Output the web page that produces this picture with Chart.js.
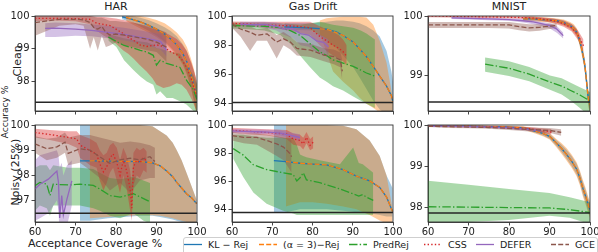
<!DOCTYPE html>
<html><head><meta charset="utf-8">
<script src="https://cdn.jsdelivr.net/npm/chart.js@4/dist/chart.umd.min.js"></script>
<style>
body{margin:0;width:598px;height:252px;background:#fff;position:relative;overflow:hidden;font-family:"DejaVu Sans",sans-serif;color:#222}
.t{position:absolute;white-space:nowrap;transform:translate(-50%,-50%);font-size:11px;line-height:1}
.r{transform:translate(-50%,-50%) rotate(-90deg)}
#legframe{position:absolute;left:183px;top:237px;width:413px;height:22px;border:1px solid #cfcfcf;border-radius:3px;background:#fff}
.li{position:absolute;top:238px;height:13px;font-size:9.5px;line-height:13px;white-space:nowrap}
.li svg{position:absolute;top:0;left:-24px}
</style></head><body>
<div id="legframe"></div>
<div id="legend"></div>
<div class="t" style="left:116px;top:6px">HAR</div>
<div class="t" style="left:313px;top:6px">Gas Drift</div>
<div class="t" style="left:509px;top:6px">MNIST</div>
<div class="t r" style="left:5px;top:112px;font-size:9px">Accuracy %</div>
<div class="t r" style="left:17px;top:61px">Clean</div>
<div class="t r" style="left:15px;top:172px">Noisy (25%)</div>
<div class="t" style="left:95px;top:243px">Acceptance Coverage %</div>
<script>
// ---------- shared ----------
var xTicks = [60, 70, 80, 90, 100];
var seriesKeys = ['kl', 'a3', 'pred', 'css', 'defer', 'gce'];
var seriesLabels = ['KL − Rej', '(α = 3)−Rej', 'PredRej', 'CSS', 'DEFER', 'GCE'];

// ---------- HAR clean ----------
var harC_ticks = [98, 99, 100];
var harC_base = 97.37;
var harC_kl_x = [81.5, 84, 86, 88, 90, 92, 93.5, 95, 96.5, 97.5, 98.5, 99.3, 100];
var harC_kl_y = [99.97, 99.9, 99.82, 99.72, 99.6, 99.45, 99.3, 99.12, 98.85, 98.6, 98.2, 97.85, 97.45];
var harC_kl_hi = [100, 100, 99.95, 99.88, 99.78, 99.66, 99.54, 99.38, 99.14, 98.92, 98.58, 98.3, 97.95];
var harC_kl_lo = [99.9, 99.8, 99.68, 99.55, 99.4, 99.22, 99.04, 98.84, 98.55, 98.25, 97.82, 97.4, 96.95];
var harC_a3_x = [82.5, 84, 86, 88, 90, 92, 93.5, 95, 96.5, 97.5, 98.5, 99.3, 100];
var harC_a3_y = [99.96, 99.9, 99.82, 99.72, 99.6, 99.45, 99.3, 99.12, 98.85, 98.6, 98.2, 97.85, 97.45];
var harC_a3_hi = [100, 100, 100, 99.95, 99.88, 99.78, 99.65, 99.5, 99.28, 99.05, 98.7, 98.35, 97.95];
var harC_a3_lo = [99.85, 99.75, 99.62, 99.5, 99.35, 99.18, 99.0, 98.8, 98.5, 98.2, 97.8, 97.35, 96.9];
var harC_pred_x = [78.1, 80.1, 82, 84.3, 86, 87.6, 89.2, 90, 90.9, 92.5, 94, 95.8, 97.4, 99.1, 100];
var harC_pred_y = [99.36, 99.22, 99.1, 99.02, 98.95, 98.9, 98.8, 98.5, 98.65, 98.55, 98.5, 98.43, 98.04, 97.75, 97.45];
var harC_pred_hi = [99.45, 99.38, 99.32, 99.27, 99.22, 99.2, 99.12, 99.02, 99.0, 98.95, 98.9, 98.85, 98.5, 98.2, 97.9];
var harC_pred_lo = [99.25, 99.05, 98.65, 98.35, 98.15, 98.0, 97.9, 97.6, 97.7, 97.5, 97.5, 97.4, 97.3, 97.1, 97.0];
var harC_css_x = [60, 65, 70, 73.6, 75.2, 77, 78.5, 80, 81.8, 83, 84.3, 85.9, 87.6, 89, 90, 91.7, 93.3, 95, 96.2, 97.4, 98.7, 99.9];
var harC_css_y = [99.93, 99.93, 99.92, 99.9, 99.78, 99.74, 99.71, 99.6, 99.46, 99.35, 99.26, 99.12, 99.07, 99.1, 99.12, 99.07, 98.92, 98.82, 98.68, 98.43, 98.04, 97.55];
var harC_css_hi = [100, 100, 100, 100, 99.98, 99.97, 99.95, 99.92, 99.88, 99.85, 99.8, 99.75, 99.68, 99.62, 99.58, 99.52, 99.42, 99.3, 99.15, 98.95, 98.55, 98.05];
var harC_css_lo = [99.85, 99.86, 99.84, 99.75, 99.55, 99.4, 99.3, 99.15, 98.95, 98.85, 98.7, 98.5, 98.3, 98.1, 97.9, 97.8, 97.85, 97.95, 97.9, 97.75, 97.45, 97.1];
var harC_defer_x = [62.5, 65, 70, 74, 78, 82, 86, 89, 91, 92.5];
var harC_defer_y = [99.62, 99.63, 99.6, 99.56, 99.5, 99.44, 99.35, 99.28, 99.22, 98.95];
var harC_defer_hi = [99.78, 99.8, 99.78, 99.74, 99.7, 99.64, 99.56, 99.5, 99.45, 99.2];
var harC_defer_lo = [99.36, 99.36, 99.4, 99.38, 99.32, 99.25, 99.15, 99.05, 98.98, 98.75];
var harC_gce_x = [60, 63, 66, 70, 72, 73.6, 74.5, 75.5, 76.5, 77.5, 78.5, 80, 82, 84, 86, 88, 90, 92.5];
var harC_gce_y = [99.8, 99.85, 99.9, 99.9, 99.88, 99.8, 99.65, 99.6, 99.68, 99.5, 99.42, 99.45, 99.42, 99.38, 99.33, 99.28, 99.2, 99.05];
var harC_gce_hi = [100, 100, 100, 100, 100, 100, 99.98, 99.95, 99.95, 99.9, 99.85, 99.85, 99.82, 99.8, 99.75, 99.7, 99.62, 99.5];
var harC_gce_lo = [99.4, 99.55, 99.7, 99.75, 99.7, 99.0, 99.35, 98.95, 99.4, 99.05, 99.1, 99.2, 99.1, 99.05, 99.0, 98.95, 98.9, 98.6];

// ---------- Gas Drift clean ----------
var gasC_ticks = [94, 96, 98, 100];
var gasC_base = 94.09;
var gasC_kl_x = [73, 76, 80, 83.5, 86, 87.6, 90.1, 91.7, 93.4, 95.1, 96.7, 98.4, 99.6, 100];
var gasC_kl_y = [99.25, 99.22, 99.17, 99.1, 98.9, 98.67, 98.22, 97.75, 97.22, 96.55, 95.89, 95.2, 94.55, 94.1];
var gasC_kl_hi = [99.5, 99.5, 99.5, 99.6, 99.7, 99.7, 99.6, 99.5, 99.3, 99.0, 98.6, 97.6, 96.2, 95.5];
var gasC_kl_lo = [99.1, 99.05, 99.0, 98.3, 97.8, 97.3, 96.5, 95.8, 95.0, 94.2, 93.6, 93.3, 93.2, 93.2];
var gasC_a3_x = [81.8, 83.5, 85.1, 87.6, 90.1, 91.7, 93.4, 95.1, 96.7, 98.4, 99.6, 100];
var gasC_a3_y = [99.12, 99.1, 98.95, 98.67, 98.22, 97.75, 97.22, 96.55, 95.89, 95.2, 94.55, 94.1];
var gasC_a3_hi = [99.7, 99.85, 99.9, 99.95, 99.95, 99.95, 99.9, 99.4, 98.3, 96.8, 94.9, 94.3];
var gasC_a3_lo = [98.8, 97.5, 96.2, 95.5, 94.9, 94.4, 94.0, 93.7, 93.4, 93.2, 93.2, 93.2];
var gasC_pred_x = [60, 64, 68, 72, 74.5, 76.9, 79.4, 81.8, 83.5, 85.1, 87.6, 90.1, 92, 93.4, 95.5];
var gasC_pred_y = [99.35, 99.32, 99.3, 99.2, 99.0, 98.67, 98.1, 97.55, 97.3, 97.0, 96.78, 96.55, 96.3, 96.1, 95.89];
var gasC_pred_hi = [99.55, 99.55, 99.55, 99.5, 99.45, 99.4, 99.5, 99.6, 99.5, 99.4, 99.3, 99.2, 99.0, 98.8, 98.4];
var gasC_pred_lo = [99.15, 99.1, 99.0, 98.7, 98.1, 97.3, 96.5, 95.8, 95.5, 95.2, 94.9, 94.5, 94.2, 94.0, 93.7];
var gasC_css_x = [60, 64, 68, 72, 76, 79.4, 81.8, 83.5, 85.1, 86.5, 87.6, 88.5];
var gasC_css_y = [99.5, 99.45, 99.4, 99.35, 99.3, 99.2, 98.6, 98.3, 98.0, 97.8, 97.55, 97.25];
var gasC_css_hi = [99.62, 99.6, 99.6, 99.6, 99.6, 99.6, 99.3, 99.1, 98.9, 98.7, 98.4, 98.0];
var gasC_css_lo = [99.35, 99.3, 99.2, 99.1, 98.9, 98.7, 98.0, 97.6, 97.3, 97.1, 96.9, 96.6];
var gasC_defer_x = [62, 65, 68, 71, 73, 75, 77, 79, 81, 82.7, 84];
var gasC_defer_y = [99.45, 99.4, 99.42, 99.3, 99.1, 99.15, 98.8, 98.7, 98.3, 98.2, 97.9];
var gasC_defer_hi = [99.6, 99.6, 99.6, 99.55, 99.45, 99.4, 99.2, 99.1, 98.8, 98.6, 98.4];
var gasC_defer_lo = [99.3, 99.25, 99.2, 99.0, 98.7, 98.5, 98.0, 97.9, 97.5, 97.3, 97.2];
var gasC_gce_x = [60, 62.1, 64.5, 66.2, 68.7, 71.1, 72.8, 74.5, 76.1, 79.5, 82.8, 85.3, 86.9, 87.4];
var gasC_gce_y = [99.44, 99.11, 98.89, 98.67, 98.78, 98.22, 98.44, 98.22, 97.78, 97.67, 97.33, 97.22, 97.0, 96.22];
var gasC_gce_hi = [99.55, 99.4, 99.3, 99.1, 99.2, 98.7, 98.9, 98.6, 98.2, 98.1, 97.8, 97.7, 97.5, 97.0];
var gasC_gce_lo = [99.2, 98.6, 97.6, 98.3, 98.3, 97.1, 98.0, 97.7, 97.3, 97.2, 96.9, 96.7, 96.5, 95.6];

// ---------- MNIST clean ----------
var mnC_ticks = [99, 100];
var mnC_base = 98.55;
var mnC_kl_x = [83.5, 86, 88, 90, 91.8, 93.5, 95.1, 96, 96.7, 97.3, 97.9, 98.4, 98.8, 99.2, 99.6, 100];
var mnC_kl_y = [99.95, 99.95, 99.94, 99.93, 99.92, 99.89, 99.84, 99.79, 99.73, 99.62, 99.46, 99.3, 99.13, 98.86, 98.6, 98.5];
var mnC_kl_hi = [99.98, 99.98, 99.97, 99.96, 99.95, 99.93, 99.88, 99.84, 99.78, 99.68, 99.53, 99.38, 99.22, 98.96, 98.7, 98.6];
var mnC_kl_lo = [99.92, 99.92, 99.91, 99.9, 99.89, 99.85, 99.8, 99.74, 99.68, 99.56, 99.39, 99.22, 99.04, 98.76, 98.5, 98.4];
var mnC_a3_x = [83.5, 86, 88, 90, 91.8, 93.5, 95.1, 96, 96.7, 97.3, 97.9, 98.4, 98.8, 99.2, 99.6, 100];
var mnC_a3_y = [99.95, 99.95, 99.94, 99.93, 99.92, 99.89, 99.84, 99.79, 99.73, 99.62, 99.46, 99.3, 99.13, 98.86, 98.6, 98.5];
var mnC_a3_hi = [99.99, 99.99, 99.98, 99.97, 99.96, 99.94, 99.9, 99.86, 99.8, 99.7, 99.56, 99.41, 99.25, 99.0, 98.74, 98.64];
var mnC_a3_lo = [99.91, 99.91, 99.9, 99.89, 99.88, 99.84, 99.78, 99.72, 99.66, 99.54, 99.36, 99.19, 99.01, 98.72, 98.46, 98.36];
var mnC_pred_x = [74.1, 80, 85, 90.1, 93, 95.1, 97.5, 100];
var mnC_pred_y = [99.19, 99.12, 99.02, 98.89, 98.82, 98.75, 98.67, 98.57];
var mnC_pred_hi = [99.3, 99.24, 99.14, 99.0, 98.95, 98.88, 98.8, 98.72];
var mnC_pred_lo = [99.06, 98.99, 98.9, 98.76, 98.68, 98.58, 98.45, 98.3];
var mnC_css_x = [60, 70, 80, 85, 88, 91, 93.5, 95.5, 97, 98.4];
var mnC_css_y = [100, 99.99, 99.98, 99.97, 99.95, 99.92, 99.87, 99.8, 99.68, 99.5];
var mnC_css_hi = [100.02, 100.01, 100.0, 99.99, 99.98, 99.96, 99.92, 99.86, 99.76, 99.6];
var mnC_css_lo = [99.98, 99.97, 99.96, 99.95, 99.92, 99.88, 99.82, 99.74, 99.6, 99.4];
var mnC_defer_x = [65.8, 70, 75, 80, 83.5, 86, 88, 90.1, 91.8, 93.4];
var mnC_defer_y = [99.97, 99.96, 99.95, 99.94, 99.92, 99.9, 99.87, 99.84, 99.78, 99.67];
var mnC_defer_hi = [99.99, 99.98, 99.97, 99.96, 99.95, 99.93, 99.9, 99.88, 99.83, 99.72];
var mnC_defer_lo = [99.95, 99.94, 99.93, 99.92, 99.89, 99.86, 99.83, 99.79, 99.72, 99.62];
var mnC_gce_x = [60, 65, 70, 75, 80, 82.5, 85, 87.5, 90, 91.8];
var mnC_gce_y = [99.85, 99.85, 99.85, 99.85, 99.85, 99.82, 99.8, 99.81, 99.83, 99.84];
var mnC_gce_hi = [99.9, 99.9, 99.9, 99.9, 99.9, 99.88, 99.86, 99.86, 99.87, 99.88];
var mnC_gce_lo = [99.8, 99.8, 99.8, 99.8, 99.79, 99.76, 99.74, 99.75, 99.78, 99.8];

// ---------- HAR noisy ----------
var harN_ticks = [97, 98, 99, 100];
var harN_base = 96.5;
var harN_kl_x = [71.1, 73.5, 78, 82, 86, 89, 90.9, 92.5, 94, 95, 96.2, 97.4, 98.7, 99.9];
var harN_kl_y = [98.58, 98.58, 98.57, 98.56, 98.55, 98.5, 98.38, 98.17, 97.95, 97.72, 97.5, 97.27, 97.1, 96.88];
var harN_kl_hi = [100, 100, 100, 100, 100, 99.95, 99.75, 99.58, 99.3, 99.0, 98.6, 98.1, 97.55, 97.03];
var harN_kl_lo = [96.2, 96.2, 96.3, 96.35, 96.4, 96.4, 96.35, 96.3, 96.25, 96.2, 96.15, 96.1, 96.05, 96.0];
var harN_a3_x = [73.5, 78, 82, 86, 89, 90.9, 92.5, 94, 95, 96.2, 97.4, 98.7, 99.9];
var harN_a3_y = [98.58, 98.57, 98.56, 98.55, 98.5, 98.38, 98.17, 97.95, 97.72, 97.5, 97.27, 97.1, 96.88];
var harN_a3_hi = [100, 100, 100, 100, 99.95, 99.75, 99.58, 99.3, 99.0, 98.6, 98.1, 97.55, 97.03];
var harN_a3_lo = [96.3, 96.35, 96.4, 96.42, 96.42, 96.4, 96.35, 96.3, 96.25, 96.2, 96.15, 96.1, 96.05];
var harN_pred_x = [60, 61.2, 62.9, 63.7, 64.5, 68.2, 71.1, 74.4, 76, 78.5, 81, 84.3, 86.8, 88.4];
var harN_pred_y = [97.59, 97.72, 97.65, 97.2, 97.65, 97.62, 97.65, 97.6, 97.46, 97.2, 97.14, 97.27, 97.08, 96.95];
var harN_pred_hi = [98.3, 98.4, 98.4, 98.2, 98.4, 98.3, 98.3, 98.25, 98.1, 97.9, 97.85, 97.95, 97.8, 97.7];
var harN_pred_lo = [96.6, 96.8, 96.7, 96.4, 96.8, 96.8, 96.8, 96.7, 96.6, 96.4, 96.3, 96.5, 96.2, 96.1];
var harN_css_x = [60, 63.7, 68.2, 70.3, 71.1, 72.8, 73.6, 75.2, 76, 76.9, 77.7, 78.5, 79.3, 80.2, 81, 81.8, 82.6, 83.5, 83.9, 84.3, 85.1, 85.9, 86.8, 87.6];
var harN_css_y = [99.7, 99.62, 99.51, 99.45, 99.2, 99.06, 98.97, 98.85, 98.46, 98.14, 98.33, 98.7, 98.85, 98.5, 98.0, 98.6, 98.2, 97.46, 96.7, 98.33, 98.6, 98.5, 98.7, 98.55];
var harN_css_hi = [99.85, 99.8, 99.75, 99.75, 99.6, 99.5, 99.45, 99.3, 99.0, 98.8, 98.9, 99.2, 99.3, 99.1, 98.6, 99.1, 98.8, 98.2, 97.6, 98.9, 99.1, 99.0, 99.1, 98.95];
var harN_css_lo = [99.5, 99.4, 99.25, 99.1, 98.7, 98.5, 98.4, 98.3, 97.8, 97.4, 97.7, 98.1, 98.3, 97.8, 97.3, 98.0, 97.5, 96.6, 96.2, 97.6, 98.0, 97.9, 98.2, 98.1];
var harN_defer_x = [60, 61.2, 63.3, 65.4, 65.8, 66.1, 66.6, 67.0, 67.9, 69.1];
var harN_defer_y = [97.46, 97.65, 97.85, 98.17, 97.72, 96.31, 97.2, 96.43, 97.07, 97.78];
var harN_defer_hi = [98.6, 98.8, 98.9, 99.0, 98.8, 98.3, 98.5, 98.0, 98.4, 98.6];
var harN_defer_lo = [96.2, 96.3, 96.5, 97.0, 96.6, 95.5, 96.0, 95.6, 96.0, 96.8];
var harN_gce_x = [60, 62.9, 65.4, 67.4, 68.2, 71.1, 73.6, 76, 78.5, 81, 83.5, 85.9, 88.4, 89.6];
var harN_gce_y = [99.25, 99.06, 99.13, 99.32, 98.87, 99.06, 99.0, 98.74, 98.48, 98.62, 98.68, 98.62, 98.74, 98.55];
var harN_gce_hi = [99.55, 99.45, 99.5, 99.7, 99.5, 99.6, 99.6, 99.5, 99.4, 99.3, 99.35, 99.3, 99.2, 99.1];
var harN_gce_lo = [98.9, 98.6, 98.7, 98.9, 98.4, 98.5, 98.2, 97.9, 97.4, 97.7, 97.3, 97.8, 97.9, 97.9];

// ---------- Gas Drift noisy ----------
var gasN_ticks = [94, 96, 98, 100];
var gasN_base = 93.77;
var gasN_kl_x = [70.4, 73.4, 76.9, 80, 83.5, 87.6, 90.9, 94.2, 96.7, 98.4, 99.9];
var gasN_kl_y = [97.47, 97.4, 97.28, 97.22, 97.17, 96.83, 96.37, 96.02, 95.56, 94.87, 93.83];
var gasN_kl_hi = [100, 100, 100, 100, 100, 99.95, 99.7, 98.9, 97.8, 96.4, 95.5];
var gasN_kl_lo = [93.8, 93.8, 94.0, 94.0, 94.0, 93.9, 93.8, 93.7, 93.6, 93.5, 93.5];
var gasN_a3_x = [73.4, 76.9, 80, 83.5, 87.6, 90.9, 94.2, 96.7, 98.4, 99.9];
var gasN_a3_y = [97.4, 97.28, 97.22, 97.17, 96.83, 96.37, 96.02, 95.56, 94.87, 93.83];
var gasN_a3_hi = [100, 100, 100, 100, 99.95, 99.7, 98.9, 97.8, 96.4, 94.0];
var gasN_a3_lo = [94.2, 94.5, 94.5, 94.4, 94.2, 94.0, 93.6, 93.2, 93.0, 92.8];
var gasN_pred_x = [60.3, 62.8, 65.3, 68.6, 72.7, 75.2, 76.1, 76.9, 77.7, 78.5, 81.8, 86.8, 90.1, 91.5, 92.5, 93.4, 95.1];
var gasN_pred_y = [98.32, 97.86, 97.17, 96.83, 96.6, 96.48, 96.02, 96.25, 96.6, 96.1, 95.9, 95.45, 95.1, 94.95, 95.05, 94.87, 94.64];
var gasN_pred_hi = [99.3, 99.3, 99.2, 99.1, 99.1, 99.1, 98.6, 97.9, 97.8, 97.7, 97.5, 97.2, 98.4, 97.3, 97.2, 97.0, 96.6];
var gasN_pred_lo = [97.6, 96.3, 95.2, 94.4, 93.9, 93.7, 93.6, 93.6, 93.6, 93.6, 93.6, 93.6, 93.6, 93.6, 93.6, 93.6, 93.6];
var gasN_css_x = [60, 64, 68.6, 71, 73.6, 75.2, 76.9, 77.7, 78.5, 79.4, 80.2];
var gasN_css_y = [99.63, 99.55, 99.47, 99.42, 99.35, 99.0, 98.9, 98.66, 99.12, 98.55, 98.78];
var gasN_css_hi = [99.8, 99.75, 99.7, 99.68, 99.65, 99.4, 99.3, 99.1, 99.5, 99.0, 99.2];
var gasN_css_lo = [99.45, 99.35, 99.25, 99.15, 99.0, 98.6, 98.5, 98.25, 98.7, 98.2, 98.35];
var gasN_defer_x = [60, 63, 66, 69, 72, 74, 75.5, 76.9];
var gasN_defer_y = [99.58, 99.55, 99.52, 99.5, 99.42, 99.3, 99.2, 99.1];
var gasN_defer_hi = [99.72, 99.7, 99.68, 99.66, 99.6, 99.5, 99.42, 99.35];
var gasN_defer_lo = [99.45, 99.4, 99.36, 99.34, 99.25, 99.1, 98.98, 98.85];
var gasN_gce_x = [60, 62.9, 66.2, 68.6, 71.1, 72.8, 74.4, 74.8];
var gasN_gce_y = [99.24, 99.12, 99.12, 98.9, 98.66, 98.43, 97.97, 97.74];
var gasN_gce_hi = [99.5, 99.4, 99.4, 99.3, 99.2, 99.1, 99.0, 98.9];
var gasN_gce_lo = [98.9, 98.7, 98.6, 98.2, 97.8, 97.5, 96.8, 96.6];

// ---------- MNIST noisy ----------
var mnN_ticks = [98, 99, 100];
var mnN_base = 97.87;
var mnN_kl_x = [60, 70, 80, 83.5, 86.8, 88.5, 90.1, 91.7, 93, 94.2, 95.5, 96.7, 97.5, 98.3, 99, 99.6, 100];
var mnN_kl_y = [99.98, 99.97, 99.95, 99.93, 99.84, 99.79, 99.72, 99.56, 99.43, 99.29, 99.12, 98.93, 98.72, 98.45, 98.25, 98.05, 97.95];
var mnN_kl_hi = [99.99, 99.99, 99.97, 99.96, 99.88, 99.84, 99.78, 99.63, 99.52, 99.4, 99.24, 99.06, 98.86, 98.6, 98.4, 98.2, 98.1];
var mnN_kl_lo = [99.97, 99.95, 99.93, 99.9, 99.8, 99.74, 99.66, 99.49, 99.34, 99.18, 99.0, 98.8, 98.58, 98.3, 98.1, 97.9, 97.8];
var mnN_a3_x = [60, 70, 80, 83.5, 86.8, 88.5, 90.1, 91.7, 93, 94.2, 95.5, 96.7, 97.5, 98.3, 99, 99.6, 100];
var mnN_a3_y = [99.98, 99.97, 99.95, 99.93, 99.84, 99.79, 99.72, 99.56, 99.43, 99.29, 99.12, 98.93, 98.72, 98.45, 98.25, 98.05, 97.95];
var mnN_a3_hi = [100, 100, 99.98, 99.97, 99.9, 99.86, 99.8, 99.66, 99.56, 99.44, 99.28, 99.1, 98.9, 98.65, 98.45, 98.25, 98.15];
var mnN_a3_lo = [99.96, 99.94, 99.92, 99.89, 99.78, 99.72, 99.64, 99.46, 99.3, 99.14, 98.96, 98.76, 98.54, 98.25, 98.05, 97.85, 97.75];
var mnN_pred_x = [60, 70, 80, 90, 95, 100];
var mnN_pred_y = [98.02, 98.01, 98.0, 97.99, 97.95, 97.88];
var mnN_pred_hi = [98.65, 98.55, 98.45, 98.35, 98.25, 98.13];
var mnN_pred_lo = [97.6, 97.65, 97.7, 97.8, 97.75, 97.6];
var mnN_css_x = [60, 65, 70, 75, 80, 85, 88, 90.5];
var mnN_css_y = [99.98, 99.97, 99.97, 99.96, 99.94, 99.91, 99.87, 99.83];
var mnN_css_hi = [100, 99.99, 99.99, 99.98, 99.97, 99.95, 99.92, 99.9];
var mnN_css_lo = [99.96, 99.95, 99.95, 99.94, 99.91, 99.87, 99.82, 99.77];
var mnN_defer_x = [60, 65, 70, 75, 80, 85, 88];
var mnN_defer_y = [99.97, 99.97, 99.96, 99.95, 99.93, 99.89, 99.86];
var mnN_defer_hi = [99.99, 99.99, 99.98, 99.97, 99.96, 99.92, 99.9];
var mnN_defer_lo = [99.95, 99.95, 99.94, 99.93, 99.9, 99.86, 99.82];
var mnN_gce_x = [60, 65, 70, 75, 80, 85, 90, 92.9];
var mnN_gce_y = [99.97, 99.96, 99.95, 99.94, 99.92, 99.89, 99.87, 99.82];
var mnN_gce_hi = [99.99, 99.99, 99.98, 99.97, 99.96, 99.94, 99.93, 99.9];
var mnN_gce_lo = [99.95, 99.93, 99.92, 99.91, 99.88, 99.84, 99.81, 99.74];

// ---------- styling / layout ----------
var COLORS = {kl:'#1f77b4', a3:'#ff7f0e', pred:'#2ca02c', css:'#d62728', defer:'#9467bd', gce:'#8c564b'};
var DASH = {kl:[], a3:[5, 2.2], pred:[8.5, 2.2, 1.4, 2.2], css:[1.4, 2.2], defer:[], gce:[5, 2.2]};
var COL_LEFT = [35, 232, 428], COL_W = [162, 161, 162];
var YW = 34, PR = 12;
var ROW_TOP = [8, 117], ROW_PT = [5.2, 5.3], ROW_H = [111, 125], ROW_XH = [6.5, 20];
var YRANGE = {harC:[97.1,100], gasC:[93.5,100], mnC:[98.4,100], harN:[96.15,100], gasN:[93.1,100], mnN:[97.65,100]};
var LEG_TEXT_X = [208, 283, 373, 448, 500, 575];

Chart.defaults.font.family = '"DejaVu Sans", sans-serif';
Chart.defaults.color = '#222';

function pts(xs, ys){ return xs.map(function(x, i){ return {x: x, y: ys[i]}; }); }
function rgba(hex, a){ var n = parseInt(hex.slice(1), 16); return 'rgba(' + (n >> 16) + ',' + ((n >> 8) & 255) + ',' + (n & 255) + ',' + a + ')'; }
function ser(pfx, k){ return [window[pfx + '_' + k + '_x'], window[pfx + '_' + k + '_y'], window[pfx + '_' + k + '_lo'], window[pfx + '_' + k + '_hi']]; }

var framePlugin = {id:'frame', afterDatasetsDraw: function(c){ var a = c.chartArea, x = c.ctx; x.save(); x.strokeStyle = '#333'; x.lineWidth = 0.9; x.strokeRect(a.left, a.top, a.right - a.left, a.bottom - a.top); x.restore(); }};

function makePanel(pfx, col, row, ticks, base){
  var cv = document.createElement('canvas');
  var left = COL_LEFT[col] - YW, width = YW + COL_W[col] + PR;
  var top = ROW_TOP[row], height = ROW_H[row];
  cv.width = width; cv.height = height;
  cv.style.cssText = 'position:absolute;left:' + left + 'px;top:' + top + 'px;width:' + width + 'px;height:' + height + 'px';
  document.body.appendChild(cv);
  var ds = [];
  seriesKeys.forEach(function(k, i){
    var s = ser(pfx, k);
    ds.push({data: pts(s[0], s[3]), fill: '+1', backgroundColor: rgba(COLORS[k], 0.4), borderColor: 'rgba(0,0,0,0)', borderWidth: 0, pointRadius: 0, order: 100 - i});
    ds.push({data: pts(s[0], s[2]), fill: false, borderColor: 'rgba(0,0,0,0)', borderWidth: 0, pointRadius: 0, order: 100 - i});
  });
  seriesKeys.forEach(function(k, i){
    var s = ser(pfx, k);
    ds.push({data: pts(s[0], s[1]), fill: false, borderColor: COLORS[k], borderWidth: 1.3, borderDash: DASH[k], pointRadius: 0, order: 50 - i});
  });
  ds.push({data: [{x: 60, y: base}, {x: 100, y: base}], fill: false, borderColor: '#262626', borderWidth: 1.5, pointRadius: 0, order: 0});
  var gridOpt = {display: true, drawOnChartArea: false, drawTicks: true, tickLength: 3.5, color: '#333', lineWidth: 0.9};
  var borderOpt = {display: true, color: '#333', width: 0.9};
  new Chart(cv, {
    type: 'line',
    data: {datasets: ds},
    options: {
      responsive: false, animation: false, events: [],
      layout: {padding: {top: ROW_PT[row], right: PR, left: 0, bottom: 0}, autoPadding: false},
      plugins: {legend: {display: false}, tooltip: {enabled: false}},
      elements: {line: {tension: 0}},
      scales: {
        x: {type: 'linear', min: 60, max: 100,
            afterBuildTicks: function(a){ a.ticks = xTicks.map(function(v){ return {value: v}; }); },
            ticks: {display: row === 1, font: {size: 10}, color: '#222', padding: 1, maxRotation: 0, autoSkip: false},
            grid: gridOpt, border: borderOpt,
            afterFit: function(s){ s.height = ROW_XH[row]; }},
        y: {type: 'linear', min: YRANGE[pfx][0], max: YRANGE[pfx][1],
            afterBuildTicks: function(a){ a.ticks = ticks.map(function(v){ return {value: v}; }); },
            ticks: {font: {size: 10}, color: '#222', padding: 2, autoSkip: false, callback: function(v){ return String(v); }},
            grid: gridOpt, border: borderOpt,
            afterFit: function(s){ s.width = YW; }}
      }
    },
    plugins: [framePlugin]
  });
}

makePanel('harC', 0, 0, harC_ticks, harC_base);
makePanel('gasC', 1, 0, gasC_ticks, gasC_base);
makePanel('mnC', 2, 0, mnC_ticks, mnC_base);
makePanel('harN', 0, 1, harN_ticks, harN_base);
makePanel('gasN', 1, 1, gasN_ticks, gasN_base);
makePanel('mnN', 2, 1, mnN_ticks, mnN_base);

// ---------- legend (HTML) ----------
(function(){
  var host = document.getElementById('legend');
  seriesKeys.forEach(function(k, i){
    var d = document.createElement('div');
    d.className = 'li';
    d.style.left = LEG_TEXT_X[i] + 'px';
    var dash = DASH[k].length ? ' stroke-dasharray="' + DASH[k].join(' ') + '"' : '';
    d.innerHTML = '<svg width="18" height="13"><line x1="0" y1="6.5" x2="18" y2="6.5" stroke="' + COLORS[k] + '" stroke-width="1.3"' + dash + '/></svg>' + seriesLabels[i];
    host.appendChild(d);
  });
})();
</script>
</body></html>
